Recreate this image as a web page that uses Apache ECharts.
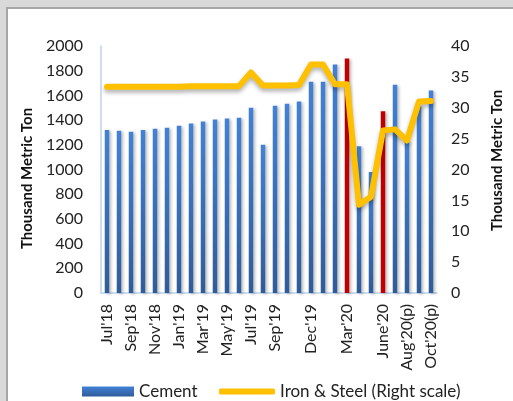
<!DOCTYPE html>
<html>
<head>
<meta charset="utf-8">
<script src="https://cdn.jsdelivr.net/npm/echarts@6/dist/echarts.min.js"></script>
<style>
  html, body { margin: 0; padding: 0; background: #d9d9d9; width: 513px; height: 401px; overflow: hidden; }
  #frame { position: absolute; left: 6px; top: 7px; width: 507px; height: 394px;
           border-left: 2px solid #a6a6a6; border-top: 2px solid #a6a6a6; background: #fff; box-sizing: border-box; }
  #chart { width: 505px; height: 392px; }
</style>
</head>
<body>
<div id="frame"><div id="chart"></div></div>
<script>
// monthly categories, Jul'18 .. Oct'20
var months = ["Jul'18", "Aug'18", "Sep'18", "Oct'18", "Nov'18", "Dec'18",
  "Jan'19", "Feb'19", "Mar'19", "Apr'19", "May'19", "Jun'19",
  "Jul'19", "Aug'19", "Sep'19", "Oct'19", "Nov'19", "Dec'19",
  "Jan'20", "Feb'20", "Mar'20", "Apr'20", "May'20", "June'20",
  "Jul'20", "Aug'20(p)", "Sep'20(p)", "Oct'20(p)"];
// only these labels are printed under the axis
var shownLabels = ["Jul'18", "Sep'18", "Nov'18", "Jan'19", "Mar'19", "May'19",
  "Jul'19", "Sep'19", "Dec'19", "Mar'20", "June'20", "Aug'20(p)", "Oct'20(p)"];
// bars drawn in red
var redMonths = ["Mar'20", "June'20"];

var cement = [1320, 1313, 1305, 1320, 1330, 1338, 1355, 1372, 1388, 1404, 1412, 1420,
  1500, 1200, 1517, 1533, 1550, 1711, 1711, 1850, 1898, 1188, 980, 1471,
  1687, 1230, 1515, 1639];
var ironSteel = [33.4, 33.4, 33.4, 33.4, 33.4, 33.4, 33.4, 33.5, 33.5, 33.5, 33.5, 33.5,
  35.7, 33.6, 33.6, 33.6, 33.7, 37.0, 37.0, 33.8, 33.8, 14.3, 15.6, 26.3,
  26.5, 24.7, 31.0, 31.1];

var leftTicks = [0, 2000, 200];
var rightTicks = [0, 40, 5];

var chart = echarts.init(document.getElementById('chart'));

var blueGrad = new echarts.graphic.LinearGradient(0, 0, 0, 1, [
  { offset: 0, color: '#4281d6' },
  { offset: 1, color: '#2f5c9a' }
]);

var barData = [];
for (var i = 0; i < cement.length; i++) {
  if (redMonths.indexOf(months[i]) >= 0) {
    barData.push({ value: cement[i], itemStyle: { color: '#c00000' } });
  } else {
    barData.push(cement[i]);
  }
}

var font = 'Lato, "Open Sans", sans-serif';

var option = {
  animation: false,
  textStyle: { fontFamily: font },
  grid: { left: 93, right: 71, top: 37, bottom: 108 },
  legend: [{
    data: ['Cement'],
    left: 69, top: 369,
    itemWidth: 52, itemHeight: 10, itemGap: 8,
    icon: 'rect',
    textStyle: { fontFamily: font, fontSize: 17, color: '#222' }
  }, {
    data: ['Iron & Steel (Right scale)'],
    left: 206, top: 369,
    itemWidth: 56, itemHeight: 6,
    icon: 'roundRect',
    textStyle: { fontFamily: font, fontSize: 17, color: '#222' }
  }],
  xAxis: {
    type: 'category',
    data: months,
    axisLine: { lineStyle: { color: '#bfd2ec', width: 1.5 } },
    axisTick: { show: false },
    axisLabel: {
      rotate: 90,
      margin: 11,
      fontSize: 16,
      color: '#222',
      fontFamily: font,
      interval: function (idx, val) { return shownLabels.indexOf(val) >= 0; }
    }
  },
  yAxis: [{
    type: 'value',
    min: leftTicks[0], max: leftTicks[1], interval: leftTicks[2],
    name: 'Thousand Metric Ton',
    nameLocation: 'middle',
    nameRotate: 90,
    nameGap: 62,
    nameTextStyle: { fontFamily: font, fontSize: 15, fontWeight: 'bold', color: '#111',
      padding: [0, 18, 0, 0] },
    axisLine: { show: true, lineStyle: { color: '#bfd2ec', width: 1.5 } },
    axisTick: { show: false },
    splitLine: { show: false },
    axisLabel: { fontSize: 16, color: '#222', margin: 18, fontFamily: font,
      formatter: function (v) { return String(v); } }
  }, {
    type: 'value',
    position: 'right',
    min: rightTicks[0], max: rightTicks[1], interval: rightTicks[2],
    name: 'Thousand Metric Ton',
    nameLocation: 'middle',
    nameRotate: 90,
    nameGap: 53,
    nameTextStyle: { fontFamily: font, fontSize: 15, fontWeight: 'bold', color: '#111',
      padding: [0, 0, 0, 18] },
    axisLine: { show: false },
    axisTick: { show: false },
    splitLine: { show: false },
    axisLabel: { fontSize: 16, color: '#222', margin: 14, fontFamily: font }
  }],
  series: [{
    name: 'Cement',
    type: 'bar',
    data: barData,
    barWidth: 4.5,
    itemStyle: {
      color: blueGrad,
      shadowColor: 'rgba(0,0,0,0.25)', shadowBlur: 3, shadowOffsetX: 2, shadowOffsetY: 1
    }
  }, {
    name: 'Iron & Steel (Right scale)',
    type: 'line',
    yAxisIndex: 1,
    data: ironSteel,
    symbol: 'none',
    lineStyle: {
      color: '#ffc000', width: 6, cap: 'round', join: 'round',
      shadowColor: 'rgba(0,0,0,0.3)', shadowBlur: 4, shadowOffsetY: 3
    },
    itemStyle: { color: '#ffc000' }
  }]
};

chart.setOption(option);
</script>
</body>
</html>
